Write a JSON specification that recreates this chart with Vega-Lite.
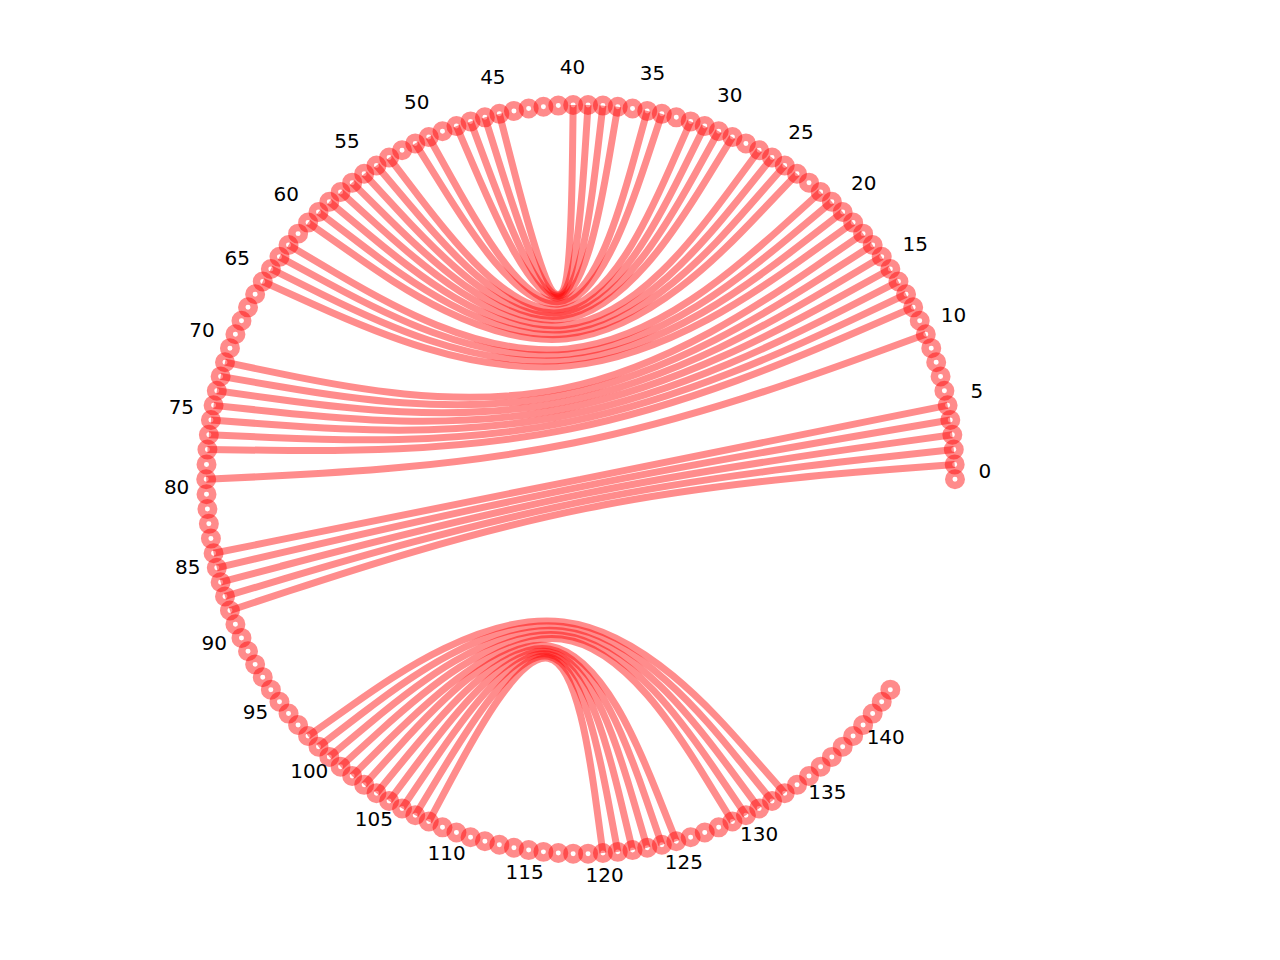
{
  "$schema": "https://vega.github.io/schema/vega-lite/v6.json",
  "width": 1280,
  "height": 960,
  "autosize": {"type": "none"},
  "padding": 0,
  "background": "white",
  "config": {"view": {"stroke": null}},
  "datasets": {
    "nodes": [
      {"i": -1, "x": 0, "y": 0},
      {"i": 0, "x": 1.0000, "y": 0.0000},
      {"i": 1, "x": 0.9992, "y": 0.0398},
      {"i": 2, "x": 0.9968, "y": 0.0795},
      {"i": 3, "x": 0.9929, "y": 0.1190},
      {"i": 4, "x": 0.9874, "y": 0.1584},
      {"i": 5, "x": 0.9803, "y": 0.1975},
      {"i": 6, "x": 0.9717, "y": 0.2364},
      {"i": 7, "x": 0.9615, "y": 0.2748},
      {"i": 8, "x": 0.9498, "y": 0.3128},
      {"i": 9, "x": 0.9366, "y": 0.3503},
      {"i": 10, "x": 0.9220, "y": 0.3873},
      {"i": 11, "x": 0.9058, "y": 0.4236},
      {"i": 12, "x": 0.8883, "y": 0.4593},
      {"i": 13, "x": 0.8693, "y": 0.4943},
      {"i": 14, "x": 0.8490, "y": 0.5284},
      {"i": 15, "x": 0.8273, "y": 0.5618},
      {"i": 16, "x": 0.8043, "y": 0.5942},
      {"i": 17, "x": 0.7801, "y": 0.6257},
      {"i": 18, "x": 0.7546, "y": 0.6562},
      {"i": 19, "x": 0.7279, "y": 0.6857},
      {"i": 20, "x": 0.7000, "y": 0.7141},
      {"i": 21, "x": 0.6711, "y": 0.7414},
      {"i": 22, "x": 0.6411, "y": 0.7675},
      {"i": 23, "x": 0.6101, "y": 0.7924},
      {"i": 24, "x": 0.5781, "y": 0.8160},
      {"i": 25, "x": 0.5452, "y": 0.8383},
      {"i": 26, "x": 0.5114, "y": 0.8593},
      {"i": 27, "x": 0.4769, "y": 0.8790},
      {"i": 28, "x": 0.4416, "y": 0.8972},
      {"i": 29, "x": 0.4055, "y": 0.9141},
      {"i": 30, "x": 0.3689, "y": 0.9295},
      {"i": 31, "x": 0.3316, "y": 0.9434},
      {"i": 32, "x": 0.2939, "y": 0.9559},
      {"i": 33, "x": 0.2556, "y": 0.9668},
      {"i": 34, "x": 0.2170, "y": 0.9762},
      {"i": 35, "x": 0.1780, "y": 0.9840},
      {"i": 36, "x": 0.1387, "y": 0.9903},
      {"i": 37, "x": 0.0993, "y": 0.9951},
      {"i": 38, "x": 0.0596, "y": 0.9982},
      {"i": 39, "x": 0.0199, "y": 0.9998},
      {"i": 40, "x": -0.0199, "y": 0.9998},
      {"i": 41, "x": -0.0596, "y": 0.9982},
      {"i": 42, "x": -0.0993, "y": 0.9951},
      {"i": 43, "x": -0.1387, "y": 0.9903},
      {"i": 44, "x": -0.1780, "y": 0.9840},
      {"i": 45, "x": -0.2170, "y": 0.9762},
      {"i": 46, "x": -0.2556, "y": 0.9668},
      {"i": 47, "x": -0.2939, "y": 0.9559},
      {"i": 48, "x": -0.3316, "y": 0.9434},
      {"i": 49, "x": -0.3689, "y": 0.9295},
      {"i": 50, "x": -0.4055, "y": 0.9141},
      {"i": 51, "x": -0.4416, "y": 0.8972},
      {"i": 52, "x": -0.4769, "y": 0.8790},
      {"i": 53, "x": -0.5114, "y": 0.8593},
      {"i": 54, "x": -0.5452, "y": 0.8383},
      {"i": 55, "x": -0.5781, "y": 0.8160},
      {"i": 56, "x": -0.6101, "y": 0.7924},
      {"i": 57, "x": -0.6411, "y": 0.7675},
      {"i": 58, "x": -0.6711, "y": 0.7414},
      {"i": 59, "x": -0.7000, "y": 0.7141},
      {"i": 60, "x": -0.7279, "y": 0.6857},
      {"i": 61, "x": -0.7546, "y": 0.6562},
      {"i": 62, "x": -0.7801, "y": 0.6257},
      {"i": 63, "x": -0.8043, "y": 0.5942},
      {"i": 64, "x": -0.8273, "y": 0.5618},
      {"i": 65, "x": -0.8490, "y": 0.5284},
      {"i": 66, "x": -0.8693, "y": 0.4943},
      {"i": 67, "x": -0.8883, "y": 0.4593},
      {"i": 68, "x": -0.9058, "y": 0.4236},
      {"i": 69, "x": -0.9220, "y": 0.3873},
      {"i": 70, "x": -0.9366, "y": 0.3503},
      {"i": 71, "x": -0.9498, "y": 0.3128},
      {"i": 72, "x": -0.9615, "y": 0.2748},
      {"i": 73, "x": -0.9717, "y": 0.2364},
      {"i": 74, "x": -0.9803, "y": 0.1975},
      {"i": 75, "x": -0.9874, "y": 0.1584},
      {"i": 76, "x": -0.9929, "y": 0.1190},
      {"i": 77, "x": -0.9968, "y": 0.0795},
      {"i": 78, "x": -0.9992, "y": 0.0398},
      {"i": 79, "x": -1.0000, "y": 0.0000},
      {"i": 80, "x": -0.9992, "y": -0.0398},
      {"i": 81, "x": -0.9968, "y": -0.0795},
      {"i": 82, "x": -0.9929, "y": -0.1190},
      {"i": 83, "x": -0.9874, "y": -0.1584},
      {"i": 84, "x": -0.9803, "y": -0.1975},
      {"i": 85, "x": -0.9717, "y": -0.2364},
      {"i": 86, "x": -0.9615, "y": -0.2748},
      {"i": 87, "x": -0.9498, "y": -0.3128},
      {"i": 88, "x": -0.9366, "y": -0.3503},
      {"i": 89, "x": -0.9220, "y": -0.3873},
      {"i": 90, "x": -0.9058, "y": -0.4236},
      {"i": 91, "x": -0.8883, "y": -0.4593},
      {"i": 92, "x": -0.8693, "y": -0.4943},
      {"i": 93, "x": -0.8490, "y": -0.5284},
      {"i": 94, "x": -0.8273, "y": -0.5618},
      {"i": 95, "x": -0.8043, "y": -0.5942},
      {"i": 96, "x": -0.7801, "y": -0.6257},
      {"i": 97, "x": -0.7546, "y": -0.6562},
      {"i": 98, "x": -0.7279, "y": -0.6857},
      {"i": 99, "x": -0.7000, "y": -0.7141},
      {"i": 100, "x": -0.6711, "y": -0.7414},
      {"i": 101, "x": -0.6411, "y": -0.7675},
      {"i": 102, "x": -0.6101, "y": -0.7924},
      {"i": 103, "x": -0.5781, "y": -0.8160},
      {"i": 104, "x": -0.5452, "y": -0.8383},
      {"i": 105, "x": -0.5114, "y": -0.8593},
      {"i": 106, "x": -0.4769, "y": -0.8790},
      {"i": 107, "x": -0.4416, "y": -0.8972},
      {"i": 108, "x": -0.4055, "y": -0.9141},
      {"i": 109, "x": -0.3689, "y": -0.9295},
      {"i": 110, "x": -0.3316, "y": -0.9434},
      {"i": 111, "x": -0.2939, "y": -0.9559},
      {"i": 112, "x": -0.2556, "y": -0.9668},
      {"i": 113, "x": -0.2170, "y": -0.9762},
      {"i": 114, "x": -0.1780, "y": -0.9840},
      {"i": 115, "x": -0.1387, "y": -0.9903},
      {"i": 116, "x": -0.0993, "y": -0.9951},
      {"i": 117, "x": -0.0596, "y": -0.9982},
      {"i": 118, "x": -0.0199, "y": -0.9998},
      {"i": 119, "x": 0.0199, "y": -0.9998},
      {"i": 120, "x": 0.0596, "y": -0.9982},
      {"i": 121, "x": 0.0993, "y": -0.9951},
      {"i": 122, "x": 0.1387, "y": -0.9903},
      {"i": 123, "x": 0.1780, "y": -0.9840},
      {"i": 124, "x": 0.2170, "y": -0.9762},
      {"i": 125, "x": 0.2556, "y": -0.9668},
      {"i": 126, "x": 0.2939, "y": -0.9559},
      {"i": 127, "x": 0.3316, "y": -0.9434},
      {"i": 128, "x": 0.3689, "y": -0.9295},
      {"i": 129, "x": 0.4055, "y": -0.9141},
      {"i": 130, "x": 0.4416, "y": -0.8972},
      {"i": 131, "x": 0.4769, "y": -0.8790},
      {"i": 132, "x": 0.5114, "y": -0.8593},
      {"i": 133, "x": 0.5452, "y": -0.8383},
      {"i": 134, "x": 0.5781, "y": -0.8160},
      {"i": 135, "x": 0.6101, "y": -0.7924},
      {"i": 136, "x": 0.6411, "y": -0.7675},
      {"i": 137, "x": 0.6711, "y": -0.7414},
      {"i": 138, "x": 0.7000, "y": -0.7141},
      {"i": 139, "x": 0.7279, "y": -0.6857},
      {"i": 140, "x": 0.7546, "y": -0.6562},
      {"i": 141, "x": 0.7801, "y": -0.6257},
      {"i": 142, "x": 0.8043, "y": -0.5942},
      {"i": 143, "x": 0.8273, "y": -0.5618}
    ],
    "pairs": [
      {"s0": 1, "s1": -1, "s2": 88},
      {"s0": 2, "s1": -1, "s2": 87},
      {"s0": 3, "s1": -1, "s2": 86},
      {"s0": 4, "s1": -1, "s2": 85},
      {"s0": 5, "s1": -1, "s2": 84},
      {"s0": 10, "s1": -1, "s2": 79},
      {"s0": 12, "s1": -1, "s2": 77},
      {"s0": 13, "s1": -1, "s2": 76},
      {"s0": 14, "s1": -1, "s2": 75},
      {"s0": 15, "s1": -1, "s2": 74},
      {"s0": 16, "s1": -1, "s2": 73},
      {"s0": 17, "s1": -1, "s2": 72},
      {"s0": 18, "s1": -1, "s2": 71},
      {"s0": 19, "s1": -1, "s2": 65},
      {"s0": 20, "s1": -1, "s2": 64},
      {"s0": 21, "s1": -1, "s2": 63},
      {"s0": 22, "s1": -1, "s2": 62},
      {"s0": 24, "s1": -1, "s2": 60},
      {"s0": 25, "s1": -1, "s2": 59},
      {"s0": 26, "s1": -1, "s2": 58},
      {"s0": 27, "s1": -1, "s2": 57},
      {"s0": 29, "s1": -1, "s2": 56},
      {"s0": 30, "s1": -1, "s2": 55},
      {"s0": 31, "s1": -1, "s2": 54},
      {"s0": 32, "s1": -1, "s2": 53},
      {"s0": 34, "s1": -1, "s2": 51},
      {"s0": 35, "s1": -1, "s2": 50},
      {"s0": 37, "s1": -1, "s2": 48},
      {"s0": 38, "s1": -1, "s2": 47},
      {"s0": 39, "s1": -1, "s2": 46},
      {"s0": 40, "s1": -1, "s2": 45},
      {"s0": 98, "s1": -1, "s2": 133},
      {"s0": 99, "s1": -1, "s2": 132},
      {"s0": 100, "s1": -1, "s2": 131},
      {"s0": 101, "s1": -1, "s2": 130},
      {"s0": 102, "s1": -1, "s2": 129},
      {"s0": 103, "s1": -1, "s2": 125},
      {"s0": 104, "s1": -1, "s2": 124},
      {"s0": 105, "s1": -1, "s2": 123},
      {"s0": 106, "s1": -1, "s2": 122},
      {"s0": 107, "s1": -1, "s2": 121},
      {"s0": 108, "s1": -1, "s2": 120}
    ],
    "labels": [
      {"t": "0", "x": 1.0800, "y": 0.0000},
      {"t": "5", "x": 1.0587, "y": 0.2133},
      {"t": "10", "x": 0.9958, "y": 0.4183},
      {"t": "15", "x": 0.8935, "y": 0.6067},
      {"t": "20", "x": 0.7560, "y": 0.7712},
      {"t": "25", "x": 0.5888, "y": 0.9054},
      {"t": "30", "x": 0.3984, "y": 1.0039},
      {"t": "35", "x": 0.1922, "y": 1.0627},
      {"t": "40", "x": -0.0215, "y": 1.0798},
      {"t": "45", "x": -0.2344, "y": 1.0543},
      {"t": "50", "x": -0.4379, "y": 0.9872},
      {"t": "55", "x": -0.6243, "y": 0.8813},
      {"t": "60", "x": -0.7861, "y": 0.7406},
      {"t": "65", "x": -0.9169, "y": 0.5707},
      {"t": "70", "x": -1.0115, "y": 0.3783},
      {"t": "75", "x": -1.0664, "y": 0.1711},
      {"t": "80", "x": -1.0791, "y": -0.0430},
      {"t": "85", "x": -1.0494, "y": -0.2553},
      {"t": "90", "x": -0.9783, "y": -0.4575},
      {"t": "95", "x": -0.8686, "y": -0.6417},
      {"t": "100", "x": -0.7248, "y": -0.8007},
      {"t": "105", "x": -0.5523, "y": -0.9280},
      {"t": "110", "x": -0.3581, "y": -1.0189},
      {"t": "115", "x": -0.1498, "y": -1.0695},
      {"t": "120", "x": 0.0644, "y": -1.0781},
      {"t": "125", "x": 0.2760, "y": -1.0441},
      {"t": "130", "x": 0.4769, "y": -0.9690},
      {"t": "135", "x": 0.6589, "y": -0.8558},
      {"t": "140", "x": 0.8150, "y": -0.7087}
    ]
  },
  "layer": [
    {
      "data": {"name": "nodes"},
      "transform": [{"filter": "datum.i >= 0"}],
      "mark": {"type": "point", "shape": "circle", "filled": false, "size": 156, "strokeWidth": 7.5, "color": "#ff0000", "opacity": 0.45},
      "encoding": {
        "x": {"field": "x", "type": "quantitative", "axis": null, "scale": {"domain": [-1.5508, 1.8681], "nice": false, "zero": false}},
        "y": {"field": "y", "type": "quantitative", "axis": null, "scale": {"domain": [-1.2839, 1.2802], "nice": false, "zero": false}}
      }
    },
    {
      "data": {"name": "pairs"},
      "transform": [
        {"fold": ["s0", "s1", "s2"], "as": ["step", "node"]},
        {"lookup": "node", "from": {"data": {"name": "nodes"}, "key": "i", "fields": ["x", "y"]}}
      ],
      "mark": {"type": "line", "interpolate": "bundle", "tension": 0.75, "strokeWidth": 7, "color": "#ff0000", "opacity": 0.45, "strokeCap": "butt"},
      "encoding": {
        "x": {"field": "x", "type": "quantitative", "axis": null, "scale": {"domain": [-1.5508, 1.8681], "nice": false, "zero": false}},
        "y": {"field": "y", "type": "quantitative", "axis": null, "scale": {"domain": [-1.2839, 1.2802], "nice": false, "zero": false}},
        "detail": {"field": "s0", "type": "nominal"},
        "order": {"field": "step", "type": "ordinal"}
      }
    },
    {
      "data": {"name": "labels"},
      "mark": {"type": "text", "font": "DejaVu Sans", "fontSize": 20, "color": "black", "align": "center", "baseline": "middle", "dy": -7},
      "encoding": {
        "x": {"field": "x", "type": "quantitative", "axis": null, "scale": {"domain": [-1.5508, 1.8681], "nice": false, "zero": false}},
        "y": {"field": "y", "type": "quantitative", "axis": null, "scale": {"domain": [-1.2839, 1.2802], "nice": false, "zero": false}},
        "text": {"field": "t", "type": "nominal"}
      }
    }
  ]
}
